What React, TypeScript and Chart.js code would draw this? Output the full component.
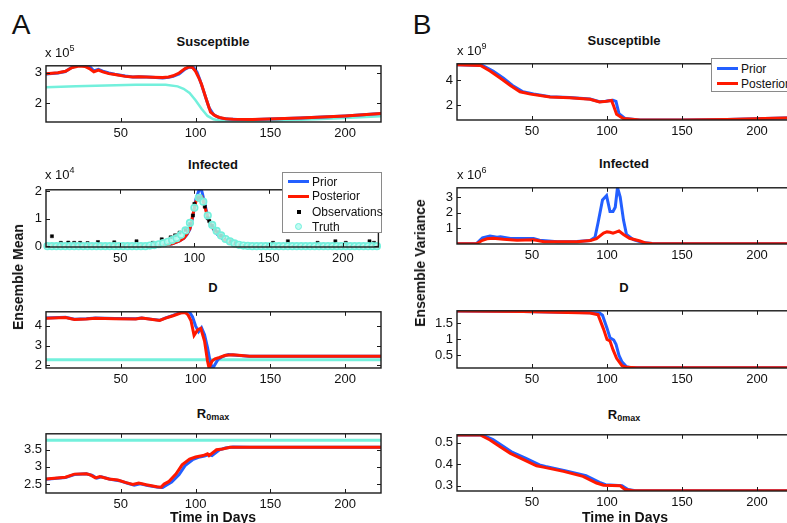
import React, { useEffect, useRef } from "react";
import { Chart, registerables } from "chart.js";
Chart.register(...registerables);

const FONT = "'Liberation Sans', Arial, Helvetica, sans-serif";
const BLUE = "rgb(35,95,255)";
const RED = "rgb(255,25,0)";
const CYAN = "rgb(115,240,220)";

const X_MIN = 0;
const X_MAX = 224;
const X_TICKS = [50, 100, 150, 200];

// ---------- Panel A : Ensemble Mean ----------
// Susceptible (x 10^5)
const aSusPostDays = [0, 8, 13, 17, 22, 26, 29, 32, 35, 38, 42, 46, 53, 58, 62, 67, 71, 78, 82, 85, 89, 93, 96, 98, 100, 102, 104, 107, 110, 113, 116, 120, 125, 138, 170, 200, 224];
const aSusPostVals = [2.97, 3.0, 3.05, 3.16, 3.22, 3.21, 3.14, 3.03, 3.09, 3.03, 2.97, 2.94, 2.88, 2.86, 2.87, 2.86, 2.85, 2.84, 2.86, 2.9, 2.99, 3.14, 3.2, 3.17, 3.05, 2.85, 2.62, 2.15, 1.7, 1.58, 1.52, 1.48, 1.46, 1.45, 1.5, 1.57, 1.65];
const aSusPriorDays = [0, 8, 13, 17, 22, 26, 29, 32, 35, 38, 42, 46, 53, 58, 62, 67, 71, 78, 82, 85, 89, 93, 96, 99, 101, 103, 106, 109, 112, 115, 118, 122, 128, 140, 170, 200, 224];
const aSusPriorVals = [2.96, 2.99, 3.04, 3.17, 3.26, 3.28, 3.22, 3.06, 3.11, 3.05, 2.99, 2.95, 2.89, 2.86, 2.87, 2.86, 2.85, 2.83, 2.85, 2.88, 2.96, 3.12, 3.19, 3.16, 3.02, 2.75, 2.3, 1.85, 1.62, 1.53, 1.49, 1.47, 1.45, 1.45, 1.5, 1.57, 1.65];
const aSusTruthDays = [0, 20, 40, 60, 80, 88, 92, 96, 100, 104, 108, 112, 116, 120, 130, 150, 180, 200, 224];
const aSusTruthVals = [2.52, 2.55, 2.58, 2.6, 2.6, 2.55, 2.47, 2.33, 2.09, 1.81, 1.57, 1.46, 1.42, 1.41, 1.4, 1.41, 1.46, 1.5, 1.56];

// Infected (x 10^4)
const aInfPostDays = [0, 10, 20, 30, 40, 50, 60, 70, 75, 80, 85, 90, 93, 95, 97, 99, 101, 103, 105, 107, 109, 111, 114, 117, 121, 125, 130, 138, 150, 224];
const aInfPostVals = [0.02, 0.04, 0.05, 0.05, 0.04, 0.03, 0.02, 0.02, 0.03, 0.05, 0.1, 0.2, 0.3, 0.45, 0.65, 1.15, 1.62, 1.84, 1.8, 1.45, 1.05, 0.8, 0.55, 0.38, 0.22, 0.12, 0.05, 0.01, 0.0, 0.0];
const aInfPriorDays = [0, 10, 20, 30, 40, 50, 60, 70, 75, 80, 85, 90, 93, 95, 97, 99, 101, 103, 104, 105, 107, 109, 111, 114, 117, 121, 125, 130, 138, 150, 224];
const aInfPriorVals = [0.02, 0.04, 0.05, 0.06, 0.05, 0.03, 0.02, 0.02, 0.03, 0.05, 0.1, 0.2, 0.3, 0.43, 0.62, 1.1, 1.7, 2.02, 2.08, 2.0, 1.55, 1.05, 0.78, 0.52, 0.36, 0.21, 0.11, 0.05, 0.01, 0.0, 0.0];
const aInfObsDays = [4, 10, 15, 19, 23, 28, 35, 46, 61, 72, 78, 84, 87, 90, 94, 97, 99, 100, 102, 104, 107, 109, 110, 112, 114, 116, 118, 120, 123, 125, 128, 153, 163, 183, 195, 202, 218, 221];
const aInfObsVals = [0.37, 0.13, 0.14, 0.13, 0.13, 0.12, 0.16, 0.15, 0.19, 0.13, 0.26, 0.33, 0.4, 0.5, 0.6, 0.81, 1.12, 1.54, 1.75, 1.75, 1.44, 1.02, 0.92, 0.76, 0.6, 0.52, 0.4, 0.34, 0.24, 0.19, 0.13, 0.13, 0.19, 0.13, 0.19, 0.13, 0.19, 0.13];
const aInfTruthDays = [1, 4, 7, 10, 13, 16, 19, 22, 25, 28, 31, 34, 37, 40, 43, 46, 49, 52, 55, 58, 61, 64, 67, 70, 73, 76, 79, 82, 85, 88, 91, 94, 97, 100, 103, 106, 109, 112, 115, 118, 121, 124, 127, 130, 133, 136, 139, 142, 145, 148, 151, 154, 157, 160, 163, 166, 169, 172, 175, 178, 181, 184, 187, 190, 193, 196, 199, 202, 205, 208, 211, 214, 217, 220, 223];
const aInfTruthVals = [0.01, 0.01, 0.01, 0.01, 0.01, 0.01, 0.01, 0.01, 0.01, 0.01, 0.01, 0.01, 0.01, 0.01, 0.01, 0.01, 0.01, 0.01, 0.01, 0.01, 0.01, 0.01, 0.01, 0.03, 0.05, 0.08, 0.12, 0.17, 0.23, 0.3, 0.42, 0.58, 0.85, 1.4, 1.76, 1.62, 1.12, 0.78, 0.56, 0.4, 0.27, 0.18, 0.11, 0.06, 0.03, 0.02, 0.01, 0.01, 0.01, 0.01, 0.01, 0.01, 0.01, 0.01, 0.01, 0.01, 0.01, 0.01, 0.01, 0.01, 0.01, 0.01, 0.01, 0.01, 0.01, 0.01, 0.01, 0.01, 0.01, 0.01, 0.01, 0.01, 0.01, 0.01, 0.01];

// D
const aDPostDays = [0, 13, 19, 27, 33, 46, 60, 64, 70, 76, 80, 85, 90, 93, 95, 97, 99, 101.5, 103.5, 106, 108, 109, 111, 113, 116, 120, 125, 136, 224];
const aDPostVals = [4.39, 4.42, 4.32, 4.35, 4.39, 4.36, 4.35, 4.39, 4.33, 4.27, 4.39, 4.51, 4.65, 4.68, 4.55, 4.25, 3.52, 3.81, 3.88, 3.23, 2.22, 1.87, 2.22, 2.33, 2.4, 2.51, 2.54, 2.46, 2.46];
const aDPriorDays = [0, 13, 19, 27, 33, 46, 60, 64, 70, 76, 80, 85, 90, 94, 96, 98, 100, 102, 104, 106, 108, 110, 111.5, 113, 115, 118, 122, 127, 136, 224];
const aDPriorVals = [4.4, 4.43, 4.33, 4.36, 4.4, 4.37, 4.36, 4.4, 4.34, 4.28, 4.4, 4.53, 4.68, 4.72, 4.7, 4.45, 4.0, 3.7, 3.9, 3.55, 2.9, 2.1, 1.85, 2.05, 2.3, 2.45, 2.55, 2.52, 2.46, 2.46];
const aDTruthDays = [0, 224];
const aDTruthVals = [2.29, 2.29];

// R0max
const aRPostDays = [0, 13, 19, 27, 30, 33, 36, 42, 48, 53, 58, 62, 67, 74, 77, 79, 82, 87, 91, 96, 100, 105, 108, 109, 114, 118, 123, 136, 224];
const aRPostVals = [2.65, 2.7, 2.79, 2.8, 2.76, 2.68, 2.72, 2.65, 2.62, 2.55, 2.49, 2.53, 2.48, 2.42, 2.41, 2.5, 2.57, 2.8, 3.06, 3.23, 3.29, 3.33, 3.38, 3.33, 3.5, 3.52, 3.57, 3.57, 3.57];
const aRPriorDays = [0, 13, 19, 27, 31, 34, 37, 43, 49, 54, 59, 63, 68, 75, 78, 81, 84, 89, 93, 98, 102, 106, 109, 111, 116, 120, 125, 136, 224];
const aRPriorVals = [2.64, 2.69, 2.78, 2.8, 2.75, 2.67, 2.71, 2.64, 2.6, 2.53, 2.47, 2.51, 2.46, 2.41, 2.4, 2.48, 2.56, 2.78, 3.04, 3.21, 3.28, 3.32, 3.36, 3.33, 3.5, 3.55, 3.58, 3.57, 3.57];
const aRTruthDays = [0, 224];
const aRTruthVals = [3.78, 3.78];

// ---------- Panel B : Ensemble Variance ----------
// Susceptible (x 10^9)
const bSusPostDays = [0, 15.7, 22, 29, 35.6, 42, 49, 62, 75, 88.7, 95, 99.7, 103, 104.5, 106.4, 110.8, 122, 150, 180, 224];
const bSusPostVals = [5.25, 5.2, 4.75, 4.16, 3.58, 3.07, 2.88, 2.65, 2.58, 2.47, 2.24, 2.31, 2.37, 1.9, 1.26, 0.91, 0.8, 0.79, 0.84, 0.98];
const bSusPriorDays = [0, 17, 24, 31, 37, 44, 51, 62, 75, 88.7, 95, 99, 101, 104, 106, 108, 112, 122, 150, 180, 224];
const bSusPriorVals = [5.25, 5.2, 4.75, 4.16, 3.58, 3.07, 2.9, 2.67, 2.6, 2.49, 2.27, 2.3, 2.35, 2.38, 2.3, 1.3, 0.92, 0.8, 0.79, 0.84, 0.98];

// Infected (x 10^6)
const bInfPostDays = [0, 13, 17, 20, 24, 31, 40, 51, 58, 67, 80, 89, 93, 97.7, 100, 102, 104, 106, 108, 111, 115, 122, 126, 130, 224];
const bInfPostVals = [0, 0, 0.22, 0.32, 0.35, 0.28, 0.22, 0.25, 0.13, 0.13, 0.13, 0.2, 0.33, 0.68, 0.76, 0.74, 0.68, 0.75, 0.82, 0.59, 0.35, 0.17, 0.04, 0.01, 0.0];
const bInfPriorDays = [0, 13, 17, 22, 26.7, 29, 35.6, 51, 55, 67, 80, 88.7, 92, 94, 97, 99.7, 102, 104, 105.5, 107, 108.8, 111, 113, 117.6, 124, 130, 224];
const bInfPriorVals = [0, 0, 0.37, 0.5, 0.42, 0.45, 0.33, 0.33, 0.22, 0.13, 0.14, 0.2, 0.41, 1.33, 2.82, 3.1, 2.07, 2.07, 2.35, 3.62, 3.0, 1.52, 0.59, 0.26, 0.07, 0.01, 0.0];

// D
const bDPostDays = [0, 44, 88.7, 94, 97.7, 100, 102, 104, 106.4, 110, 113, 120, 224];
const bDPostVals = [1.88, 1.87, 1.82, 1.77, 1.32, 1.0, 0.95, 0.68, 0.41, 0.18, 0.13, 0.12, 0.12];
const bDPriorDays = [0, 44, 90, 95, 97, 100, 102, 104.5, 106, 108, 110, 113, 116, 224];
const bDPriorVals = [1.88, 1.87, 1.83, 1.82, 1.75, 1.35, 1.05, 0.98, 0.85, 0.5, 0.3, 0.15, 0.12, 0.12];

// R0max
const bRPostDays = [0, 15.5, 22, 29, 35.6, 44, 53, 57.5, 71, 84, 93, 97.7, 108.8, 112, 117.6, 224];
const bRPostVals = [0.536, 0.536, 0.513, 0.48, 0.451, 0.423, 0.393, 0.387, 0.367, 0.344, 0.313, 0.303, 0.3, 0.283, 0.277, 0.277];
const bRPriorDays = [0, 17, 24, 31, 37, 46, 55, 59, 72, 86, 95, 99, 110, 114, 119, 224];
const bRPriorVals = [0.536, 0.536, 0.515, 0.483, 0.455, 0.427, 0.397, 0.39, 0.37, 0.347, 0.316, 0.305, 0.301, 0.283, 0.277, 0.277];

// y tick labels
const aSusTicks = [2, 3];
const aInfTicks = [0, 1, 2];
const aDTicks = [2, 3, 4];
const aRTicks = [2.5, 3, 3.5];
const bSusTicks = [2, 4];
const bInfTicks = [1, 2, 3];
const bDTicks = [0.5, 1, 1.5];
const bRTicks = [0.3, 0.4, 0.5];

function pts(xs: number[], ys: number[]) {
  return xs.map((x, i) => ({ x, y: ys[i] }));
}

function line(xs: number[], ys: number[], color: string, order: number, width = 3) {
  return {
    data: pts(xs, ys),
    borderColor: color,
    backgroundColor: color,
    borderWidth: width,
    pointRadius: 0,
    tension: 0,
    fill: false,
    order,
  };
}

const boxPlugin = {
  id: "matlabBox",
  afterDraw(chart: any) {
    const { ctx, chartArea: a, scales } = chart;
    ctx.save();
    ctx.strokeStyle = "#1a1a1a";
    ctx.lineWidth = 1.4;
    ctx.strokeRect(a.left, a.top, a.right - a.left, a.bottom - a.top);
    ctx.beginPath();
    const tl = 4;
    scales.x.ticks.forEach((t: any) => {
      const px = Math.round(scales.x.getPixelForValue(t.value)) + 0.5;
      ctx.moveTo(px, a.top);
      ctx.lineTo(px, a.top + tl);
      ctx.moveTo(px, a.bottom);
      ctx.lineTo(px, a.bottom - tl);
    });
    scales.y.ticks.forEach((t: any) => {
      const py = Math.round(scales.y.getPixelForValue(t.value)) + 0.5;
      ctx.moveTo(a.left, py);
      ctx.lineTo(a.left + tl, py);
      ctx.moveTo(a.right, py);
      ctx.lineTo(a.right - tl, py);
    });
    ctx.lineWidth = 1;
    ctx.stroke();
    ctx.restore();
  },
};

type SubProps = {
  L: number; T: number; W: number; H: number;
  yMin: number; yMax: number; yTicks: number[];
  datasets: any[];
};

function Subplot({ L, T, W, H, yMin, yMax, yTicks, datasets }: SubProps) {
  const ref = useRef<HTMLCanvasElement>(null);
  const YW = 42, XH = 24, PT = 3, PR = 3;
  const cw = W + YW + PR;
  const ch = H + PT + XH;
  useEffect(() => {
    const chart = new Chart(ref.current as HTMLCanvasElement, {
      type: "line",
      data: { datasets },
      options: {
        animation: false,
        responsive: false,
        maintainAspectRatio: false,
        devicePixelRatio: 1,
        layout: { padding: { top: PT, right: PR, left: 0, bottom: 0 } },
        plugins: { legend: { display: false }, tooltip: { enabled: false }, title: { display: false } },
        scales: {
          x: {
            type: "linear",
            min: X_MIN,
            max: X_MAX,
            afterBuildTicks: (s: any) => { s.ticks = X_TICKS.map((v) => ({ value: v })); },
            afterFit: (s: any) => { s.height = XH; },
            grid: { display: false, drawTicks: false },
            border: { display: false },
            ticks: { color: "#111", font: { family: FONT, size: 13 }, padding: 4, maxRotation: 0, autoSkip: false, callback: (v: any) => String(v) },
          },
          y: {
            type: "linear",
            min: yMin,
            max: yMax,
            afterBuildTicks: (s: any) => { s.ticks = yTicks.map((v) => ({ value: v })); },
            afterFit: (s: any) => { s.width = YW; },
            grid: { display: false, drawTicks: false },
            border: { display: false },
            ticks: { color: "#111", font: { family: FONT, size: 13 }, padding: 4, autoSkip: false, callback: (v: any) => String(v) },
          },
        },
      } as any,
      plugins: [boxPlugin],
    });
    return () => chart.destroy();
  }, []);
  return (
    <canvas
      ref={ref}
      width={cw}
      height={ch}
      style={{ position: "absolute", left: L - YW, top: T - PT, width: cw, height: ch }}
    />
  );
}

const abs = (x: number, y: number, extra: any = {}) => ({
  position: "absolute" as const,
  left: x,
  top: y,
  transform: "translate(-50%, -50%)",
  whiteSpace: "nowrap" as const,
  fontFamily: FONT,
  color: "#111",
  lineHeight: 1,
  ...extra,
});

function Title({ x, y, children }: any) {
  return <div style={abs(x, y, { fontSize: 13, fontWeight: "bold" })}>{children}</div>;
}

function Expo({ x, y, e }: any) {
  return (
    <div style={{ position: "absolute", left: x, top: y, fontFamily: FONT, fontSize: 13, color: "#111", whiteSpace: "nowrap", lineHeight: 1 }}>
      x 10<sup style={{ fontSize: 9, verticalAlign: "6px" }}>{e}</sup>
    </div>
  );
}

function R0Title({ x, y }: any) {
  return (
    <div style={abs(x, y, { fontSize: 13, fontWeight: "bold" })}>
      R<sub style={{ fontSize: 9, verticalAlign: "-2px" }}>0max</sub>
    </div>
  );
}

function LegendLine({ y, color, label }: any) {
  return (
    <>
      <div style={{ position: "absolute", left: 5, top: y - 1.5, width: 21, height: 3, background: color }} />
      <div style={{ position: "absolute", left: 29, top: y - 7, fontSize: 12, fontFamily: FONT, color: "#111", lineHeight: "14px" }}>{label}</div>
    </>
  );
}

export default function App() {
  const AL = 46, AW = 335;
  const BL = 457, BW = 336;

  const aSus = [
    line(aSusPostDays, aSusPostVals, RED, 1),
    line(aSusPriorDays, aSusPriorVals, BLUE, 2),
    line(aSusTruthDays, aSusTruthVals, CYAN, 3, 2.5),
  ];
  const aInf = [
    {
      data: pts(aInfTruthDays, aInfTruthVals),
      showLine: false,
      pointRadius: 3.3,
      pointBorderWidth: 1.6,
      pointBorderColor: CYAN,
      pointBackgroundColor: "rgba(180,250,240,0.85)",
      borderColor: CYAN,
      backgroundColor: CYAN,
      order: 0,
      clip: 6,
    },
    {
      data: pts(aInfObsDays, aInfObsVals),
      showLine: false,
      pointRadius: 2.2,
      pointStyle: "rect",
      pointBorderWidth: 0.5,
      pointBorderColor: "#000",
      pointBackgroundColor: "#000",
      borderColor: "#000",
      backgroundColor: "#000",
      order: 0.5,
      clip: 6,
    },
    line(aInfPostDays, aInfPostVals, RED, 1),
    line(aInfPriorDays, aInfPriorVals, BLUE, 2),
  ];
  const aD = [
    line(aDPostDays, aDPostVals, RED, 1),
    line(aDPriorDays, aDPriorVals, BLUE, 2),
    line(aDTruthDays, aDTruthVals, CYAN, 3, 3),
  ];
  const aR = [
    line(aRPostDays, aRPostVals, RED, 1),
    line(aRPriorDays, aRPriorVals, BLUE, 2),
    line(aRTruthDays, aRTruthVals, CYAN, 3, 3),
  ];
  const bSus = [line(bSusPostDays, bSusPostVals, RED, 1), line(bSusPriorDays, bSusPriorVals, BLUE, 2)];
  const bInf = [line(bInfPostDays, bInfPostVals, RED, 1), line(bInfPriorDays, bInfPriorVals, BLUE, 2)];
  const bD = [line(bDPostDays, bDPostVals, RED, 1), line(bDPriorDays, bDPriorVals, BLUE, 2)];
  const bR = [line(bRPostDays, bRPostVals, RED, 1), line(bRPriorDays, bRPriorVals, BLUE, 2)];

  return (
    <div style={{ position: "fixed", left: 0, top: 0, width: 787, height: 523, overflow: "hidden", background: "#fff" }}>
      {/* Panel letters */}
      <div style={abs(21, 25, { fontSize: 28 })}>A</div>
      <div style={abs(422, 25, { fontSize: 28 })}>B</div>

      {/* Panel A */}
      <Subplot L={AL} T={57} W={AW} H={65} yMin={1.37} yMax={3.23} yTicks={aSusTicks} datasets={aSus} />
      <Subplot L={AL} T={181} W={AW} H={66} yMin={-0.02} yMax={2.05} yTicks={aInfTicks} datasets={aInf} />
      <Subplot L={AL} T={303} W={AW} H={65} yMin={1.87} yMax={4.71} yTicks={aDTicks} datasets={aD} />
      <Subplot L={AL} T={425} W={AW} H={68} yMin={2.24} yMax={3.965} yTicks={aRTicks} datasets={aR} />

      {/* Panel B */}
      <Subplot L={BL} T={55} W={BW} H={65} yMin={0.79} yMax={5.33} yTicks={bSusTicks} datasets={bSus} />
      <Subplot L={BL} T={179} W={BW} H={65} yMin={-0.02} yMax={3.6} yTicks={bInfTicks} datasets={bInf} />
      <Subplot L={BL} T={302} W={BW} H={66} yMin={0.11} yMax={1.89} yTicks={bDTicks} datasets={bD} />
      <Subplot L={BL} T={426} W={BW} H={65} yMin={0.276} yMax={0.537} yTicks={bRTicks} datasets={bR} />

      {/* Titles A */}
      <Title x={213} y={41}>Susceptible</Title>
      <Title x={213} y={164}>Infected</Title>
      <Title x={213} y={287}>D</Title>
      <R0Title x={213} y={414} />
      {/* Titles B */}
      <Title x={624} y={40}>Susceptible</Title>
      <Title x={624} y={163}>Infected</Title>
      <Title x={624} y={287}>D</Title>
      <R0Title x={624} y={415} />

      {/* Exponents */}
      <Expo x={45} y={44} e={5} />
      <Expo x={45} y={166} e={4} />
      <Expo x={457} y={42} e={9} />
      <Expo x={457} y={166} e={6} />

      {/* Axis labels */}
      <div style={abs(18, 277, { fontSize: 14, fontWeight: "bold", transform: "translate(-50%, -50%) rotate(-90deg)" })}>Ensemble Mean</div>
      <div style={abs(420, 263, { fontSize: 14, fontWeight: "bold", transform: "translate(-50%, -50%) rotate(-90deg)" })}>Ensemble Variance</div>
      <div style={abs(213, 517, { fontSize: 14, fontWeight: "bold" })}>Time in Days</div>
      <div style={abs(625, 517, { fontSize: 14, fontWeight: "bold" })}>Time in Days</div>

      {/* Legend A */}
      <div style={{ position: "absolute", left: 282, top: 172, width: 100, height: 61, background: "#fff", border: "1px solid #8a8a8a", boxSizing: "border-box" }}>
        <LegendLine y={8.5} color={BLUE} label="Prior" />
        <LegendLine y={23} color={RED} label="Posterior" />
        <div style={{ position: "absolute", left: 13.5, top: 36.5, width: 4, height: 4, background: "#000" }} />
        <div style={{ position: "absolute", left: 29, top: 31.5, fontSize: 12, fontFamily: FONT, color: "#111", lineHeight: "14px" }}>Observations</div>
        <div style={{ position: "absolute", left: 12, top: 50, width: 7, height: 7, borderRadius: "50%", background: "rgba(180,250,240,0.85)", border: `1.5px solid ${CYAN}`, boxSizing: "border-box" }} />
        <div style={{ position: "absolute", left: 29, top: 46.5, fontSize: 12, fontFamily: FONT, color: "#111", lineHeight: "14px" }}>Truth</div>
      </div>

      {/* Legend B */}
      <div style={{ position: "absolute", left: 711, top: 58, width: 90, height: 34, background: "#fff", border: "1px solid #8a8a8a", boxSizing: "border-box" }}>
        <LegendLine y={9.5} color={BLUE} label="Prior" />
        <LegendLine y={24.5} color={RED} label="Posterior" />
      </div>
    </div>
  );
}
